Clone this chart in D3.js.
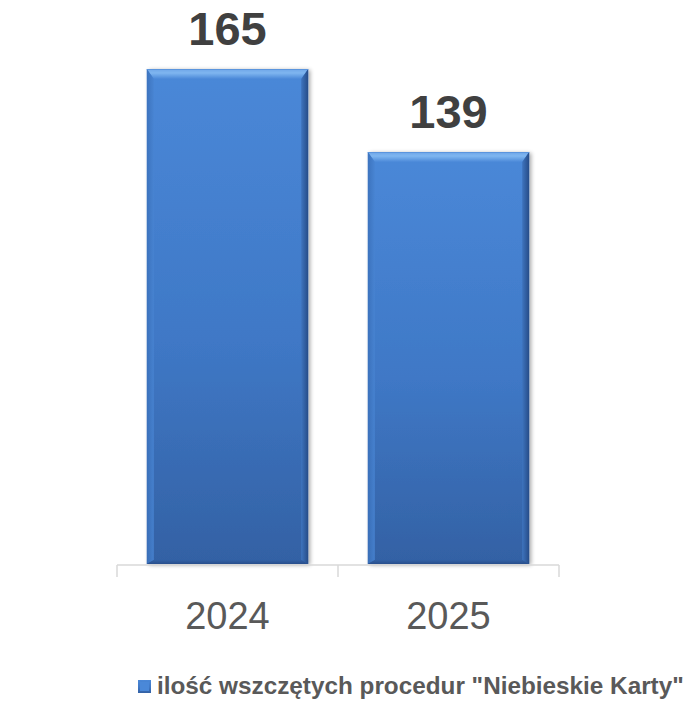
<!DOCTYPE html>
<html><head><meta charset="utf-8">
<script src="https://cdn.jsdelivr.net/npm/d3@7"></script>
<style>html,body{margin:0;padding:0;background:#fff;}svg{display:block;}</style>
</head><body>
<script>
const categories = ["2024", "2025"];
const values = [165, 139];
const seriesName = 'ilość wszczętych procedur "Niebieskie Karty"';
const axisMin = 10;

const W = 689, H = 705;
const svg = d3.select("body").append("svg").attr("width", W).attr("height", H)
  .style("font-family", "'Liberation Sans', Arial, sans-serif");
const defs = svg.append("defs");

const x = d3.scaleBand().domain(categories).range([117, 559]).paddingInner(0).paddingOuter(0);
const y = d3.scaleLinear().domain([axisMin, 165]).range([564, 69]);
const barW = x.bandwidth() * 0.73;

// gradients
const g1 = defs.append("linearGradient").attr("id","barGrad").attr("x1",0).attr("y1",0).attr("x2",0).attr("y2",1);
g1.append("stop").attr("offset","0%").attr("stop-color","#4a88d8");
g1.append("stop").attr("offset","55%").attr("stop-color","#3f78c6");
g1.append("stop").attr("offset","100%").attr("stop-color","#3361a4");
const gTop = defs.append("linearGradient").attr("id","topGrad").attr("x1",0).attr("y1",0).attr("x2",0).attr("y2",1);
gTop.append("stop").attr("offset","0%").attr("stop-color","#6fa6e8");
gTop.append("stop").attr("offset","40%").attr("stop-color","#7fb6f0");
gTop.append("stop").attr("offset","100%").attr("stop-color","#4a88d8");
const gL = defs.append("linearGradient").attr("id","leftGrad").attr("x1",0).attr("y1",0).attr("x2",1).attr("y2",0);
gL.append("stop").attr("offset","0%").attr("stop-color","#3a70ba");
gL.append("stop").attr("offset","100%").attr("stop-color","#4884d2");
const gR = defs.append("linearGradient").attr("id","rightGrad").attr("x1",0).attr("y1",0).attr("x2",1).attr("y2",0);
gR.append("stop").attr("offset","0%").attr("stop-color","#3e74be");
gR.append("stop").attr("offset","100%").attr("stop-color","#264c88");
const gB = defs.append("linearGradient").attr("id","botGrad").attr("x1",0).attr("y1",0).attr("x2",0).attr("y2",1);
gB.append("stop").attr("offset","0%").attr("stop-color","#3361a4");
gB.append("stop").attr("offset","100%").attr("stop-color","#284e8c");

const shadow = defs.append("filter").attr("id","sh").attr("x","-10%").attr("y","-10%").attr("width","130%").attr("height","130%");
shadow.append("feGaussianBlur").attr("in","SourceAlpha").attr("stdDeviation",2);
shadow.append("feOffset").attr("dx",2).attr("dy",1).attr("result","b");
shadow.append("feComponentTransfer").append("feFuncA").attr("type","linear").attr("slope",0.35);
const m = shadow.append("feMerge"); m.append("feMergeNode"); m.append("feMergeNode").attr("in","SourceGraphic");

const bars = svg.append("g").selectAll("g").data(categories).join("g");
bars.each(function(c, i){
  const g = d3.select(this);
  const x0 = x(c) + (x.bandwidth() - barW) / 2, x1 = x0 + barW;
  const y0 = y(values[i]), y1 = y(axisMin);
  const bv = 10, bs = 7;
  g.append("rect").attr("x", x0).attr("y", y0).attr("width", barW).attr("height", y1 - y0)
    .attr("fill", "url(#barGrad)").attr("filter","url(#sh)");
  g.append("polygon").attr("points", [[x0,y0],[x1,y0],[x1-bs,y0+bv],[x0+bs,y0+bv]].join(" ")).attr("fill","url(#topGrad)");
  g.append("polygon").attr("points", [[x0,y0],[x0+bs,y0+bv],[x0+bs,y1-4],[x0,y1]].join(" ")).attr("fill","url(#leftGrad)").attr("opacity",0.85);
  g.append("polygon").attr("points", [[x1,y0],[x1-bs,y0+bv],[x1-bs,y1-4],[x1,y1]].join(" ")).attr("fill","url(#rightGrad)");
  g.append("polygon").attr("points", [[x0,y1],[x0+bs,y1-4],[x1-bs,y1-4],[x1,y1]].join(" ")).attr("fill","url(#botGrad)");
  g.append("line").attr("x1",x0).attr("x2",x1).attr("y1",y0+0.5).attr("y2",y0+0.5).attr("stroke","#5b95dd").attr("stroke-width",1);
  g.append("text").attr("x", x0 + barW/2).attr("y", y0 - 24).attr("text-anchor","middle")
    .attr("font-size", 47).attr("font-weight","bold").attr("fill","#404040").text(values[i]);
});

// axis
const axisY = y(axisMin) + 1;
const ax = svg.append("g");
ax.append("line").attr("x1", x.range()[0]).attr("x2", x.range()[1]).attr("y1", axisY).attr("y2", axisY)
  .attr("stroke","#d9d9d9").attr("stroke-width",1.5);
const boundaries = categories.map(c => x(c)).concat([x(categories[categories.length-1]) + x.bandwidth()]);
ax.selectAll("line.tk").data(boundaries).join("line").attr("class","tk")
  .attr("x1", d=>d).attr("x2", d=>d).attr("y1", axisY).attr("y2", axisY + 12)
  .attr("stroke","#d9d9d9").attr("stroke-width",1.5);
ax.selectAll("text").data(categories).join("text")
  .attr("x", c => x(c) + x.bandwidth()/2).attr("y", 629).attr("text-anchor","middle")
  .attr("font-size", 38).attr("fill","#595959").text(c => c);

// legend
const lg = svg.append("g");
lg.append("rect").attr("x",138).attr("y",680).attr("width",13).attr("height",13).attr("fill","url(#barGrad)");
lg.append("rect").attr("x",140).attr("y",682).attr("width",9).attr("height",9).attr("fill","#4a88d8");
lg.append("text").attr("x",157).attr("y",694).attr("font-size",24.3).attr("font-weight","bold")
  .attr("fill","#595959").text(seriesName);
</script>
</body></html>
